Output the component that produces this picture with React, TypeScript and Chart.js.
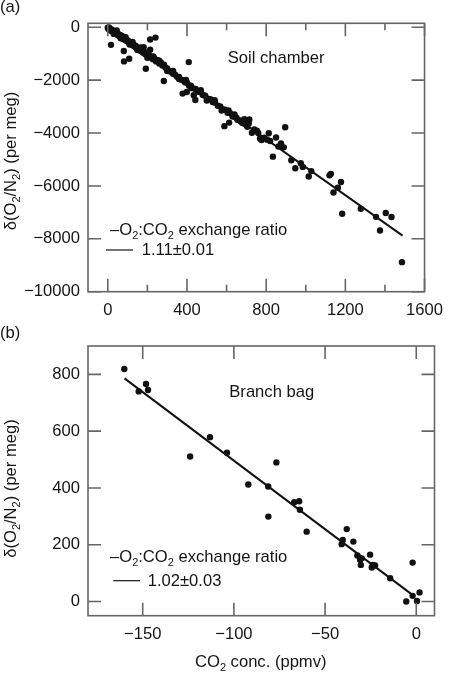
import React, { useEffect, useRef } from "react";
import { Chart, registerables } from "chart.js";

Chart.register(...registerables);

// ---------- Panel (a): soil chamber ----------
const soilCO2 = [
  0, 3, 6, 8, 10, 12, 15, 18, 20, 22, 25, 28, 30, 33, 36, 38, 40, 43, 46, 48,
  50, 53, 56, 58, 60, 63, 66, 68, 70, 73, 76, 78, 80, 84, 88, 92, 96, 100, 104, 108,
  112, 116, 120, 125, 130, 135, 140, 145, 150, 155, 160, 166, 172, 178, 185, 190, 196, 202, 208, 214,
  220, 228, 236, 244, 252, 260, 268, 276, 284, 292, 300, 310, 320, 330, 340, 350, 360, 370, 380, 390,
  400, 410, 420, 432, 444, 456, 468, 480, 492, 505, 518, 530, 542, 556, 568, 580, 592, 605, 618, 630,
  642, 655, 668, 680, 692, 705,
  16, 81, 82, 108, 192, 214, 241, 214, 181, 409, 283, 378, 399, 434, 442, 589, 613, 715, 728, 753,
  769, 777, 813, 834, 850, 875, 889, 896, 927, 947, 975, 985, 1015, 1028, 1120, 1127, 1140, 1162, 1178, 1184,
  1278, 1355, 1375, 1404, 1433, 1486,
  650, 672, 690, 700, 712, 740, 760, 790, 805, 820, 862,
  30, 45, 65, 90, 110, 125, 150, 165, 200, 230, 260, 300, 330, 360, 395, 420, 470, 500, 540, 575, 610, 640,
];
const soilDelta = [
  -20, -60, -10, -80, -50, -110, -70, -130, -90, -150, -120, -170, -140, -200, -160, -230, -190, -250, -220, -280,
  -240, -300, -270, -330, -290, -350, -310, -380, -330, -400, -360, -430, -390, -460, -420, -500, -470, -540, -520, -590,
  -560, -630, -600, -680, -650, -730, -700, -790, -760, -840, -820, -900, -870, -960, -930, -1020, -990, -1090, -1060, -1140,
  -1110, -1210, -1180, -1290, -1250, -1370, -1330, -1450, -1420, -1530, -1560, -1660, -1680, -1760, -1790, -1870, -1880, -1980, -2000, -2080,
  -2100, -2200, -2210, -2310, -2330, -2440, -2460, -2560, -2590, -2700, -2720, -2830, -2850, -2970, -2990, -3100, -3120, -3230, -3250, -3370,
  -3390, -3500, -3520, -3620, -3650, -3760,
  -665, -900, -1290, -1190, -1566, -463, -390, -852, -752, -1317, -2030, -2509, -2447, -2570, -2750, -3740, -3605, -3488, -3990, -3915,
  -4203, -4266, -4010, -4893, -4166, -4391, -4542, -3780, -5030, -5330, -5143, -5280, -5646, -5440, -5600, -5544, -6248, -6070, -5850, -7050,
  -6862, -7170, -7685, -7025, -7176, -8883,
  -3420, -3560, -3480, -3700, -3640, -3860, -4000, -4180, -4250, -4300, -4510,
  -250, -120, -420, -380, -650, -560, -860, -760, -1150, -1100, -1260, -1650, -1650, -1960, -1990, -2300, -2380, -2770, -2760, -3150, -3150, -3300,
];
const soilFitCO2 = [0, 1489];
const soilFitDelta = [0, -7880];
const soilXTicks = [0, 200, 400, 600, 800, 1000, 1200, 1400, 1600];
const soilXLabelled = [0, 400, 800, 1200, 1600];
const soilYTicks = [0, -2000, -4000, -6000, -8000, -10000];

// ---------- Panel (b): branch bag ----------
const branchCO2 = [
  -160.1, -152.2, -148.2, -147.1, -113.1, -124.0, -103.8, -92.1, -81.2, -81.1,
  -76.7, -66.9, -64.2, -63.8, -60.1, -40.9, -40.3, -38.1, -34.5, -32.3,
  -30.8, -30.4, -29.9, -25.3, -24.4, -23.8, -22.6, -14.3, -5.5, -2.0,
  -2.0, 0.4, 1.8,
];
const branchDelta = [
  819, 740, 766, 745, 579, 511, 524, 412, 405, 299,
  490, 350, 353, 323, 246, 202, 217, 255, 211, 162,
  147, 129, 152, 165, 120, 129, 127, 82, 0, 137,
  20, 2, 32,
];
const branchFitCO2 = [-160, -1];
const branchFitDelta = [786, 18];
const branchXTicks = [-150, -100, -50, 0];
const branchYTicks = [0, 200, 400, 600, 800];

const FONT = "'Liberation Sans', Arial, Helvetica, sans-serif";
const FS = 16.6;
const TXT = "#151515";
const FRAME = "#666";

type Part = [string, boolean];

function richWidth(ctx: CanvasRenderingContext2D, parts: Part[], size: number, sub: number) {
  let w = 0;
  for (const [t, s] of parts) {
    ctx.font = `${s ? sub : size}px ${FONT}`;
    w += ctx.measureText(t).width;
  }
  return w;
}

function drawRich(
  ctx: CanvasRenderingContext2D,
  parts: Part[],
  x: number,
  y: number,
  size = FS,
  align: "left" | "center" = "left"
) {
  const sub = Math.round(size * 0.68);
  let cx = x;
  if (align === "center") cx = x - richWidth(ctx, parts, size, sub) / 2;
  ctx.textAlign = "left";
  ctx.textBaseline = "alphabetic";
  ctx.fillStyle = TXT;
  for (const [t, s] of parts) {
    ctx.font = `${s ? sub : size}px ${FONT}`;
    ctx.fillText(t, cx, s ? y + size * 0.25 : y);
    cx += ctx.measureText(t).width;
  }
}

const fmt = (v: number) => (v < 0 ? "\u2212" + Math.abs(v) : String(v));

const yTitle: Part[] = [
  ["\u03b4(O", false],
  ["2", true],
  ["/N", false],
  ["2", true],
  [") (per meg)", false],
];
const ratioTitle: Part[] = [
  ["\u2013O", false],
  ["2", true],
  [":CO", false],
  ["2", true],
  [" exchange ratio", false],
];

interface PanelCfg {
  xTicks: number[];
  xMajor: number[];
  yTicks: number[];
  texts: (ctx: CanvasRenderingContext2D, chart: Chart) => void;
}

function framePlugin(cfg: PanelCfg) {
  return {
    id: "frameTicks",
    afterDraw(chart: Chart) {
      const { ctx, chartArea: a } = chart;
      const sx = chart.scales.x;
      const sy = chart.scales.y;
      ctx.save();
      ctx.strokeStyle = FRAME;
      ctx.lineWidth = 1.6;
      ctx.strokeRect(a.left, a.top, a.right - a.left, a.bottom - a.top);
      ctx.beginPath();
      for (const v of cfg.xTicks) {
        const px = sx.getPixelForValue(v);
        const len = cfg.xMajor.includes(v) ? 13 : 7;
        ctx.moveTo(px, a.bottom);
        ctx.lineTo(px, a.bottom - len);
        ctx.moveTo(px, a.top);
        ctx.lineTo(px, a.top + len);
      }
      for (const v of cfg.yTicks) {
        const py = sy.getPixelForValue(v);
        ctx.moveTo(a.left, py);
        ctx.lineTo(a.left + 13, py);
        ctx.moveTo(a.right, py);
        ctx.lineTo(a.right - 13, py);
      }
      ctx.stroke();
      cfg.texts(ctx, chart);
      ctx.restore();
    },
  };
}

function makeChart(
  canvas: HTMLCanvasElement,
  opts: {
    xs: number[];
    ys: number[];
    fitX: number[];
    fitY: number[];
    xMin: number;
    xMax: number;
    yMin: number;
    yMax: number;
    xTicks: number[];
    xLabelled: number[];
    yTicks: number[];
    padTop: number;
    xAxisH: number;
    texts: (ctx: CanvasRenderingContext2D, chart: Chart) => void;
  }
) {
  const pts = opts.xs.map((x, i) => ({ x, y: opts.ys[i] }));
  const fit = opts.fitX.map((x, i) => ({ x, y: opts.fitY[i] }));
  const tickFont = { family: FONT, size: FS };
  return new Chart(canvas, {
    type: "scatter",
    data: {
      datasets: [
        {
          data: fit,
          type: "line",
          showLine: true,
          borderColor: "#111",
          borderWidth: 2,
          pointRadius: 0,
          fill: false,
        } as any,
        {
          data: pts,
          pointRadius: 3.2,
          pointHoverRadius: 3.2,
          backgroundColor: "#111",
          borderWidth: 0,
        },
      ],
    },
    options: {
      responsive: false,
      animation: false,
      events: [],
      layout: { padding: { left: 0, right: 17.5, top: opts.padTop, bottom: 0 } },
      plugins: { legend: { display: false }, tooltip: { enabled: false }, title: { display: false } },
      scales: {
        x: {
          type: "linear",
          min: opts.xMin,
          max: opts.xMax,
          afterBuildTicks: (s: any) => {
            s.ticks = opts.xTicks.map((v) => ({ value: v }));
          },
          afterFit: (s: any) => {
            s.height = opts.xAxisH;
          },
          grid: { display: false, drawTicks: false, tickLength: 0 },
          border: { display: false },
          ticks: {
            font: tickFont,
            color: TXT,
            padding: 9,
            maxRotation: 0,
            autoSkip: false,
            callback: (v: any) => (opts.xLabelled.includes(Number(v)) ? fmt(Number(v)) : ""),
          },
        },
        y: {
          type: "linear",
          min: opts.yMin,
          max: opts.yMax,
          afterBuildTicks: (s: any) => {
            s.ticks = opts.yTicks.map((v) => ({ value: v }));
          },
          afterFit: (s: any) => {
            s.width = 88;
          },
          grid: { display: false, drawTicks: false, tickLength: 0 },
          border: { display: false },
          ticks: {
            font: tickFont,
            color: TXT,
            padding: 8,
            autoSkip: false,
            callback: (v: any) => fmt(Number(v)),
          },
        },
      },
    },
    plugins: [
      framePlugin({
        xTicks: opts.xTicks,
        xMajor: opts.xLabelled,
        yTicks: opts.yTicks,
        texts: opts.texts,
      }),
    ],
  });
}

function drawYTitle(ctx: CanvasRenderingContext2D, cy: number) {
  ctx.save();
  ctx.translate(15.7, cy);
  ctx.rotate(-Math.PI / 2);
  drawRich(ctx, yTitle, 0, 0, FS, "center");
  ctx.restore();
}

function drawLegend(ctx: CanvasRenderingContext2D, x1: number, y1: number, dx0: number, dx1: number, dy: number, tx: number, ty: number, value: string) {
  drawRich(ctx, ratioTitle, x1, y1, FS);
  ctx.strokeStyle = TXT;
  ctx.lineWidth = 1.2;
  ctx.beginPath();
  ctx.moveTo(dx0, dy);
  ctx.lineTo(dx1, dy);
  ctx.stroke();
  drawRich(ctx, [[value, false]], tx, ty, FS);
}

export default function App() {
  const refA = useRef<HTMLCanvasElement>(null);
  const refB = useRef<HTMLCanvasElement>(null);

  useEffect(() => {
    const a = makeChart(refA.current!, {
      xs: soilCO2,
      ys: soilDelta,
      fitX: soilFitCO2,
      fitY: soilFitDelta,
      xMin: -100,
      xMax: 1600,
      yMin: -10000,
      yMax: 150,
      xTicks: soilXTicks,
      xLabelled: soilXLabelled,
      yTicks: soilYTicks,
      padTop: 23.3,
      xAxisH: 320 - 291.7,
      texts: (ctx) => {
        drawRich(ctx, [["(a)", false]], 0, 11.6);
        drawRich(ctx, [["Soil chamber", false]], 227.7, 63.3);
        drawLegend(ctx, 110, 235.3, 106, 133, 250, 141.7, 255.3, "1.11\u00b10.01");
        drawYTitle(ctx, 161);
      },
    });
    const b = makeChart(refB.current!, {
      xs: branchCO2,
      ys: branchDelta,
      fitX: branchFitCO2,
      fitY: branchFitDelta,
      xMin: -180,
      xMax: 10,
      yMin: -50,
      yMax: 900,
      xTicks: branchXTicks,
      xLabelled: branchXTicks,
      yTicks: branchYTicks,
      padTop: 26,
      xAxisH: 354 - 295.7,
      texts: (ctx) => {
        drawRich(ctx, [["(b)", false]], 0, 18.3);
        drawRich(ctx, [["Branch bag", false]], 229.3, 77.3);
        drawLegend(ctx, 110, 242.3, 113.3, 140, 260.7, 147.7, 265.7, "1.02\u00b10.03");
        drawYTitle(ctx, 168.5);
        drawRich(
          ctx,
          [
            ["CO", false],
            ["2", true],
            [" conc. (ppmv)", false],
          ],
          195,
          347.3
        );
      },
    });
    return () => {
      a.destroy();
      b.destroy();
    };
  }, []);

  return (
    <div style={{ position: "absolute", left: 0, top: 0, width: 452, height: 674, background: "#fff" }}>
      <canvas ref={refA} width={452} height={320} style={{ position: "absolute", left: 0, top: 0, width: 452, height: 320 }} />
      <canvas ref={refB} width={452} height={354} style={{ position: "absolute", left: 0, top: 320, width: 452, height: 354 }} />
    </div>
  );
}
